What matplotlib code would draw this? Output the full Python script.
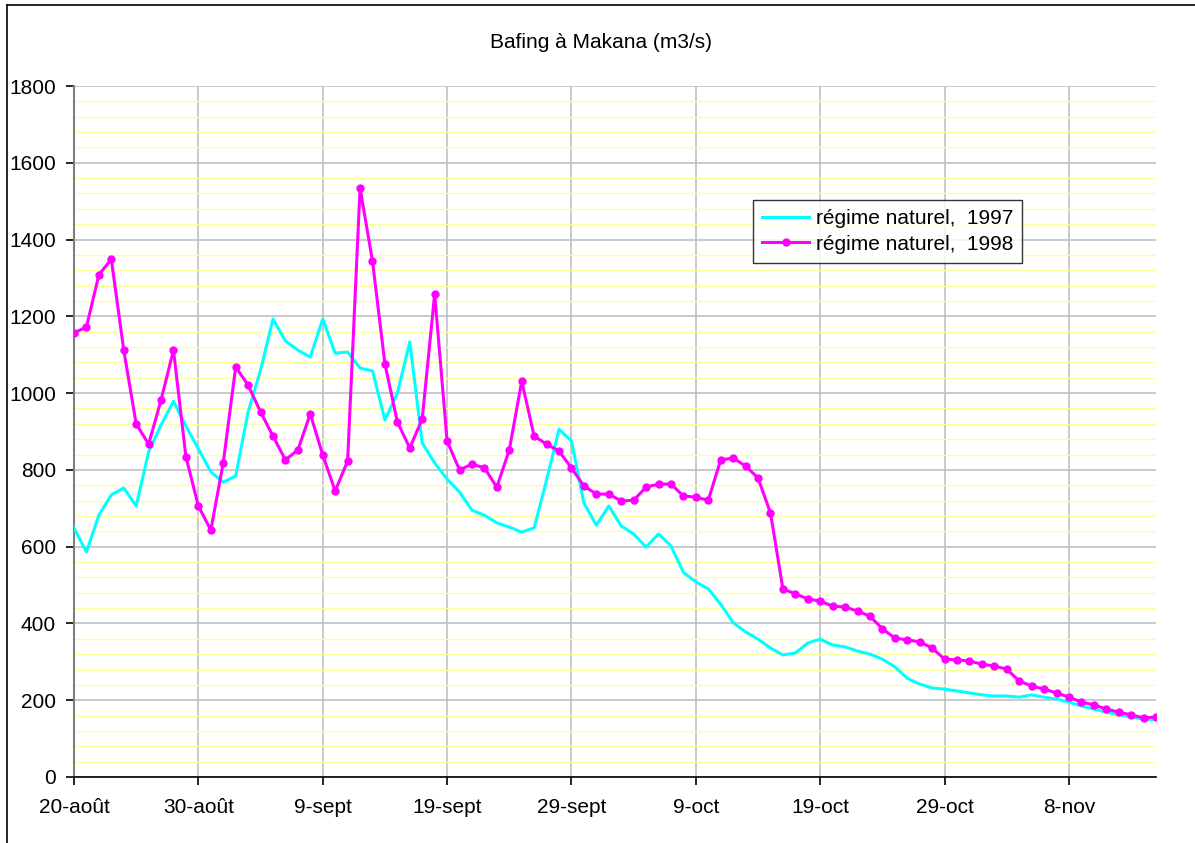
import numpy as np
import matplotlib
matplotlib.use('Agg')
import matplotlib.pyplot as plt
from matplotlib.lines import Line2D

plt.rcParams['font.family'] = ['Liberation Sans', 'DejaVu Sans']

# days after 20 August
days = np.arange(88)

q1997 = [649, 586, 682, 735, 753, 706, 847, 917, 979, 914,
         855, 795, 768, 784, 951, 1060, 1193, 1136, 1112, 1094,
         1193, 1104, 1107, 1065, 1058, 930, 1000, 1133, 870, 818,
         776, 742, 695, 682, 662, 651, 638, 649, 774, 906,
         875, 714, 656, 706, 654, 633, 599, 633, 602, 533,
         508, 490, 450, 402, 378, 359, 336, 318, 323, 349,
         359, 344, 339, 328, 320, 307, 287, 257, 242, 232,
         229, 224, 219, 214, 211, 211, 208, 214, 208, 203,
         195, 185, 177, 169, 162, 156, 151, 149]

q1998 = [1157, 1172, 1308, 1349, 1112, 920, 867, 982, 1112, 834,
         706, 643, 818, 1068, 1021, 951, 888, 826, 852, 946,
         839, 745, 823, 1534, 1344, 1076, 925, 857, 933, 1258,
         875, 800, 815, 805, 755, 852, 1031, 888, 867, 849,
         805, 758, 737, 737, 719, 721, 755, 763, 763, 732,
         729, 721, 826, 831, 810, 779, 688, 490, 477, 464,
         458, 445, 443, 432, 419, 386, 362, 357, 352, 336,
         307, 305, 302, 294, 289, 281, 250, 237, 229, 219,
         208, 195, 188, 177, 169, 162, 154, 156]

tick_days = [0, 10, 20, 30, 40, 50, 60, 70, 80]
tick_labels = ['20-août', '30-août', '9-sept', '19-sept', '29-sept',
               '9-oct', '19-oct', '29-oct', '8-nov']

fig = plt.figure(figsize=(11.95, 8.43), dpi=100)
ax = fig.add_axes([74/1195, 66/843, (1156-74)/1195, (777-86)/843])

ax.plot(days, q1997, color='#00FFFF', lw=2.2, label='régime naturel,  1997', zorder=3)
ax.plot(days, q1998, color='#FF00FF', lw=2.2, marker='o', ms=5,
        label='régime naturel,  1998', zorder=4)

ax.set_xlim(0, 87)
ax.set_ylim(0, 1800)
ax.set_yticks(np.arange(0, 1801, 200))
ax.set_yticks(np.arange(0, 1801, 40), minor=True)
ax.set_xticks(tick_days)
ax.set_xticklabels(tick_labels)

ax.grid(axis='y', which='minor', color='#FFFF99', lw=1, zorder=0)
ax.grid(axis='y', which='major', color='#C0C0C0', lw=1.2, zorder=1)
ax.grid(axis='x', which='major', color='#C0C0C0', lw=1.2, zorder=1)
ax.set_axisbelow(True)

ax.tick_params(axis='both', which='major', labelsize=15, length=6, width=1.2,
               color='black')
ax.tick_params(axis='y', which='minor', length=0)
ax.tick_params(axis='y', pad=7)
ax.tick_params(axis='x', pad=9)

for s in ['top', 'right']:
    ax.spines[s].set_visible(False)
ax.spines['left'].set_color('#808080')
ax.spines['left'].set_linewidth(1.5)
ax.spines['bottom'].set_color('black')
ax.spines['bottom'].set_linewidth(1.2)

fig.text(601/1195, 1 - 42/843, 'Bafing à Makana (m3/s)', ha='center', va='center', fontsize=15)

leg = ax.legend(loc='upper left', bbox_to_anchor=((753-74)/1082, (777-200)/691),
                fontsize=15, frameon=True, fancybox=False, edgecolor='black',
                borderpad=0.45, handlelength=2.25, handletextpad=0.3,
                labelspacing=0.3, borderaxespad=0, numpoints=1)
leg.get_frame().set_linewidth(1.0)

# outer chart border (left and top)
fig.add_artist(Line2D([7/1195, 7/1195], [0, 1 - 5/843], color='black', lw=1.2))
fig.add_artist(Line2D([7/1195, 1], [1 - 5/843, 1 - 5/843], color='black', lw=1.2))

fig.savefig('out.png', dpi=100)
